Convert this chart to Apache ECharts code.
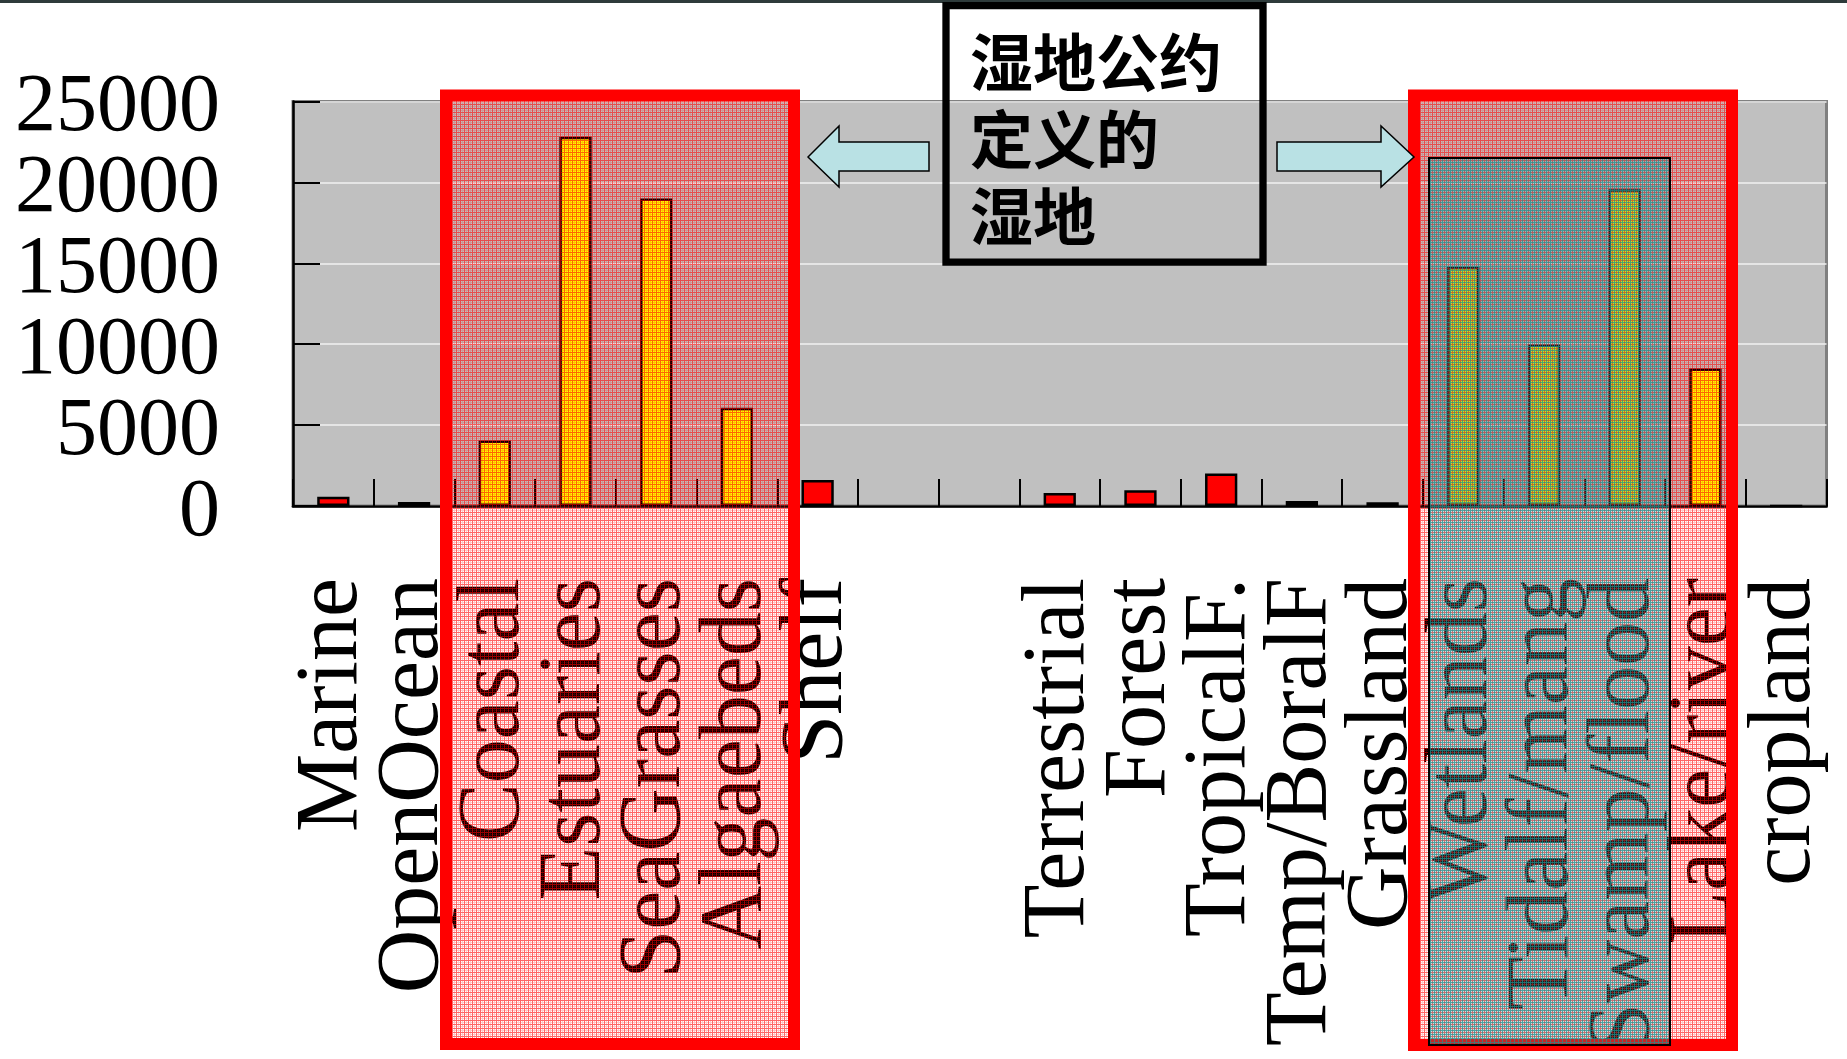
<!DOCTYPE html>
<html>
<head>
<meta charset="utf-8">
<script src="https://cdn.jsdelivr.net/npm/echarts@6/dist/echarts.min.js"></script>
<style>
  html, body { margin: 0; padding: 0; background: #ffffff; }
  #chart { width: 1847px; height: 1059px; }
</style>
</head>
<body>
<div id="chart"></div>
<script>
// Ecosystem service value per hectare by biome
const categories = [
  'Marine', 'OpenOcean', 'Coastal', 'Estuaries', 'SeaGrasses', 'Algaebeds', 'Shelf', '', '',
  'Terrestrial', 'Forest', 'TropicalF.', 'Temp/BoralF', 'Grassland',
  'Wetlands', 'Tidalf/mang', 'Swamp/flood', 'Lake/river', 'cropland'
];
const values = [
  577, 252, 4052, 22832, 19004, 6075, 1610, null, null,
  804, 969, 2007, 302, 232,
  14785, 9990, 19580, 8498, 0
];
// Biomes counted as wetlands under the Ramsar definition
const wetlandCategories = [
  'Coastal', 'Estuaries', 'SeaGrasses', 'Algaebeds',
  'Wetlands', 'Tidalf/mang', 'Swamp/flood', 'Lake/river'
];
const yMin = 0;
const yMax = 25000;
const yInterval = 5000;
const noteLines = ['湿地公约', '定义的', '湿地'];

// Small repeating tiles used as hatched fills for the highlight boxes
function makeTile(size, paint) {
  const c = document.createElement('canvas');
  c.width = size; c.height = size;
  paint(c.getContext('2d'));
  return c;
}
const redHatch = makeTile(4, ctx => {
  for (let x = 0; x < 4; x++) {
    for (let y = 0; y < 4; y++) {
      let a = 0;
      if (x === 0 || y === 0) a = 0.6;
      else if (x === 2 || y === 2) a = 0.22;
      if (a) { ctx.fillStyle = 'rgba(255,0,0,' + a + ')'; ctx.fillRect(x, y, 1, 1); }
    }
  }
});
const tealHatch = makeTile(4, ctx => {
  for (let x = 0; x < 4; x++) {
    for (let y = 0; y < 4; y++) {
      const a = (x === 2 || y === 2) ? 0.75 : 0.25;
      ctx.fillStyle = 'rgba(20,150,150,' + a + ')';
      ctx.fillRect(x, y, 1, 1);
    }
  }
});

const chart = echarts.init(document.getElementById('chart'), null, { renderer: 'canvas' });

const serif = '"Liberation Serif", "Times New Roman", serif';

// Large tick labels sit closer together than their own height, so the
// value labels are split between two coincident axes (even / odd steps)
// to keep every one of them visible.
function yLabel(parity) {
  return {
    margin: 73, fontFamily: serif, fontSize: 82, color: '#000',
    showMinLabel: true, showMaxLabel: true, hideOverlap: false,
    formatter: v => (Math.round(v / yInterval) % 2 === parity ? '{n|' + v + '}' : ''),
    rich: {
      n: { fontFamily: serif, fontSize: 82, color: '#000', lineHeight: 30, padding: [14, 0, 0, 0] }
    }
  };
}

chart.setOption({
  animation: false,
  backgroundColor: '#ffffff',
  grid: {
    left: 293, right: 20.5, top: 101.6, bottom: 553,
    containLabel: false, outerBoundsMode: 'none',
    show: true, backgroundColor: '#C0C0C0', borderColor: '#808080', borderWidth: 3
  },
  xAxis: {
    type: 'category',
    data: categories,
    boundaryGap: true,
    axisLine: { show: true, lineStyle: { color: '#000', width: 2.5 } },
    axisTick: { show: true, inside: true, length: 27, interval: 0, lineStyle: { color: '#000', width: 2 } },
    axisLabel: {
      interval: 0, rotate: 90, margin: 72, hideOverlap: false,
      fontFamily: serif, fontSize: 88, color: '#000',
      padding: [0, 0, 10, 0]
    },
    splitLine: { show: false }
  },
  yAxis: [{
    type: 'value', position: 'left', offset: 0,
    min: yMin, max: yMax, interval: yInterval,
    axisLine: { show: true, lineStyle: { color: '#000', width: 2.5 } },
    axisTick: { show: true, inside: true, length: 27, lineStyle: { color: '#000', width: 2 } },
    axisLabel: yLabel(0),
    splitLine: { show: true, lineStyle: { color: '#F2F2F2', width: 1.5 } }
  }, {
    type: 'value', position: 'left', offset: 0,
    min: yMin, max: yMax, interval: yInterval,
    axisLine: { show: false },
    axisTick: { show: false },
    axisLabel: yLabel(1),
    splitLine: { show: false }
  }],
  series: [{
    type: 'bar',
    yAxisIndex: 0,
    barWidth: '40%',
    data: values.map((v, i) => ({
      value: v,
      itemStyle: { color: wetlandCategories.includes(categories[i]) ? '#FFFF00' : '#FF0000' }
    })),
    itemStyle: { borderColor: '#000', borderWidth: 2.5 }
  }],
  graphic: [
    // dark rule along the top edge
    { type: 'rect', z: 50, shape: { x: 0, y: 0, width: 1847, height: 3 }, style: { fill: '#2E3B3B' } },
    // marine/coastal wetland group
    { type: 'rect', z: 50, shape: { x: 446, y: 95.5, width: 348, height: 948.5 },
      style: { fill: { image: redHatch, repeat: 'repeat' }, stroke: '#FF0000', lineWidth: 12 } },
    // inland wetland group
    { type: 'rect', z: 50, shape: { x: 1414, y: 95.5, width: 318, height: 949.5 },
      style: { fill: { image: redHatch, repeat: 'repeat' }, stroke: '#FF0000', lineWidth: 12 } },
    { type: 'rect', z: 51, shape: { x: 1429, y: 158, width: 241, height: 887 },
      style: { fill: { image: tealHatch, repeat: 'repeat' }, stroke: '#000', lineWidth: 2 } },
    // arrows pointing at both groups
    { type: 'polygon', z: 52,
      shape: { points: [[808, 157], [839, 126], [839, 142], [929, 142], [929, 171], [839, 171], [839, 187]] },
      style: { fill: '#B9E1E4', stroke: '#000', lineWidth: 1.5 } },
    { type: 'polygon', z: 52,
      shape: { points: [[1277, 142], [1381, 142], [1381, 126], [1414, 157], [1381, 187], [1381, 171], [1277, 171]] },
      style: { fill: '#B9E1E4', stroke: '#000', lineWidth: 1.5 } },
    // note box
    { type: 'rect', z: 52, shape: { x: 946, y: 5.6, width: 317, height: 256.6 },
      style: { fill: 'none', stroke: '#000', lineWidth: 7.3 } },
    { type: 'text', z: 53, x: 970, y: 23.5,
      style: {
        text: noteLines.join('\n'),
        font: 'bold 63px "Noto Sans CJK SC"',
        lineHeight: 77,
        fill: '#000',
        verticalAlign: 'top',
        align: 'left',
        textShadowColor: 'rgba(0,0,0,0.35)', textShadowOffsetX: 2, textShadowOffsetY: 2, textShadowBlur: 0
      } }
  ]
});
</script>
</body>
</html>
